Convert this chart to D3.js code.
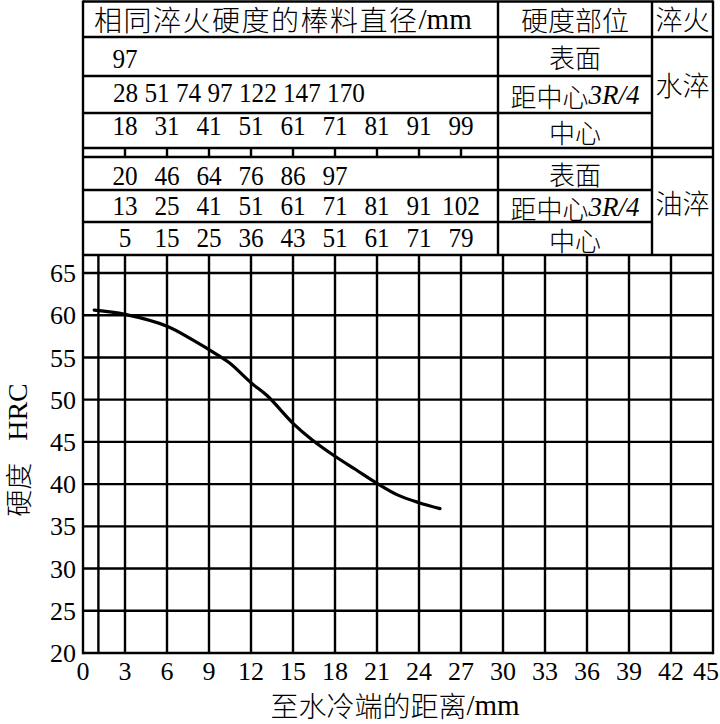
<!DOCTYPE html>
<html><head><meta charset="utf-8">
<script src="https://cdn.jsdelivr.net/npm/d3@7"></script>
<style>body{margin:0;background:#fff} svg{display:block}</style>
</head><body><svg id="c" width="720" height="724"></svg>
<script>
// ---- data ----
const distance = [0.8, 3, 6, 7.8, 9.6, 10.5, 12, 13.2, 15, 16.4, 18, 19.5, 21, 22.5, 24, 25.5];
const hardness = [60.6, 60.1, 58.7, 57.1, 55.3, 54.3, 52.0, 50.4, 47.2, 45.2, 43.3, 41.7, 40.1, 38.7, 37.8, 37.1];
const xTicks = [0, 3, 6, 9, 12, 15, 18, 21, 24, 27, 30, 33, 36, 39, 42, 45];
const yTicks = [20, 25, 30, 35, 40, 45, 50, 55, 60, 65];
const xGrid = [1.1, 3, 6, 9, 12, 15, 18, 21, 24, 27, 30, 33, 36, 39, 42];
const tableDistances = [3, 6, 9, 12, 15, 18, 21, 24, 27];
const waterSurface = [97];
const waterMid = [28, 51, 74, 97, 122, 147, 170];
const waterCenter = [18, 31, 41, 51, 61, 71, 81, 91, 99];
const oilSurface = [20, 46, 64, 76, 86, 97];
const oilMid = [13, 25, 41, 51, 61, 71, 81, 91, 102];
const oilCenter = [5, 15, 25, 36, 43, 51, 61, 71, 79];
const positionLabels = ["表面", "距中心", "中心"];
const quenchLabels = ["水淬", "油淬"];
const headerDiam = "相同淬火硬度的棒料直径";
const headerPos = "硬度部位";
const headerQuench = "淬火";
const xTitle = "至水冷端的距离";
const yTitle = "硬度";

// ---- layout ----
const svg = d3.select("#c");
const L = 83, R = 713, B = 653, T0 = 1.5;
const colPos = 498, colQ = 652;
const rows = [1.5, 37, 76, 113, 148, 157, 190, 222, 255];
const plotTop = 255;
const x = d3.scaleLinear().domain([0, 45]).range([L, R]);
const y = d3.scaleLinear().domain([20, 65]).range([B, 273]);
const CJK = "'Noto Sans CJK SC', sans-serif";
const SERIF = "'Liberation Serif', 'Times New Roman', serif";
const CW = 300;
const lw = 2.4;

const g = svg.append("g").attr("stroke", "#000").attr("stroke-width", lw).attr("fill", "none");
function hl(y0, x0, x1) { g.append("line").attr("x1", x0).attr("x2", x1).attr("y1", y0).attr("y2", y0); }
function vl(x0, y0, y1) { g.append("line").attr("x1", x0).attr("x2", x0).attr("y1", y0).attr("y2", y1); }

// grid
yTicks.forEach(v => hl(y(v), L, R));
xGrid.forEach(v => vl(x(v), plotTop, B));
// table lines
[rows[0], rows[1], rows[4], rows[5], rows[8]].forEach(r => hl(r, L, R));
[rows[2], rows[3], rows[6], rows[7]].forEach(r => hl(r, L, colQ));
vl(L, T0 - 1, B + 1.2); vl(R, T0 - 1, B + 1.2);
vl(colPos, T0, plotTop); vl(colQ, T0, plotTop);
tableDistances.forEach(d => vl(x(d), rows[4], rows[5]));

// curve
svg.append("path")
  .datum(distance.map((d, i) => [d, hardness[i]]))
  .attr("fill", "none").attr("stroke", "#000").attr("stroke-width", 3.2)
  .attr("stroke-linecap", "round")
  .attr("d", d3.line().x(d => x(d[0])).y(d => y(d[1])).curve(d3.curveCatmullRom.alpha(0.5)));

// axis labels
svg.append("g").selectAll("text").data(yTicks).join("text")
  .attr("x", 76).attr("y", d => y(d)).attr("dy", "0.35em")
  .attr("text-anchor", "end").attr("font-family", SERIF).attr("font-size", 26)
  .text(d => d);
svg.append("g").selectAll("text").data(xTicks).join("text")
  .attr("x", (d, i) => i === xTicks.length - 1 ? 719 : x(d)).attr("y", 680)
  .attr("text-anchor", (d, i) => i === xTicks.length - 1 ? "end" : "middle")
  .attr("font-family", SERIF).attr("font-size", 26)
  .text(d => d);

// x title
const xt = svg.append("text").attr("x", 395).attr("y", 705).attr("dominant-baseline", "central")
  .attr("text-anchor", "middle").attr("font-family", CJK).attr("font-weight", CW).attr("font-size", 28);
xt.append("tspan").text(xTitle);
xt.append("tspan").attr("font-family", SERIF).attr("font-size", 29).attr("font-weight", "normal").text("/mm");
// y title
const yt = svg.append("text").attr("transform", "translate(17,450) rotate(-90)")
  .attr("dominant-baseline", "central").attr("text-anchor", "middle")
  .attr("font-family", CJK).attr("font-weight", CW).attr("font-size", 27);
yt.append("tspan").text(yTitle);
yt.append("tspan").attr("font-family", SERIF).attr("font-weight", "normal").attr("font-size", 28).attr("dx", 22).text("HRC");

// header
const h1 = svg.append("text").attr("x", 94).attr("y", 19).attr("dominant-baseline", "central")
  .attr("font-family", CJK).attr("font-weight", CW).attr("font-size", 28).attr("letter-spacing", 1.5);
h1.append("tspan").text(headerDiam);
h1.append("tspan").attr("font-family", SERIF).attr("font-weight", "normal").attr("font-size", 29).attr("letter-spacing", 0).text("/mm");
svg.append("text").attr("x", (colPos + colQ) / 2).attr("y", 19).attr("dominant-baseline", "central")
  .attr("text-anchor", "middle").attr("font-family", CJK).attr("font-weight", CW).attr("font-size", 27).text(headerPos);
svg.append("text").attr("x", (colQ + R) / 2).attr("y", 18).attr("dominant-baseline", "central")
  .attr("text-anchor", "middle").attr("font-family", CJK).attr("font-weight", CW).attr("font-size", 27).text(headerQuench);

// position labels
function posLabel(i, cy) {
  const t = svg.append("text").attr("x", (colPos + colQ) / 2).attr("y", cy).attr("dominant-baseline", "central")
    .attr("text-anchor", "middle").attr("font-family", CJK).attr("font-weight", CW).attr("font-size", 26);
  t.append("tspan").text(positionLabels[i]);
  if (i === 1) {
    t.append("tspan").attr("font-family", SERIF).attr("font-weight", "normal").attr("font-size", 27)
      .attr("font-style", "italic").text("3R/4");
  }
}
posLabel(0, 56); posLabel(1, 95); posLabel(2, 131);
posLabel(0, 173); posLabel(1, 207); posLabel(2, 239);
svg.append("text").attr("x", (colQ + R) / 2).attr("y", 84).attr("dominant-baseline", "central")
  .attr("text-anchor", "middle").attr("font-family", CJK).attr("font-weight", CW).attr("font-size", 27).text(quenchLabels[0]);
svg.append("text").attr("x", (colQ + R) / 2).attr("y", 202).attr("dominant-baseline", "central")
  .attr("text-anchor", "middle").attr("font-family", CJK).attr("font-weight", CW).attr("font-size", 27).text(quenchLabels[1]);

// number rows
function numRow(vals, base) {
  svg.append("g").selectAll("text").data(vals).join("text")
    .attr("transform", (d, i) => `translate(${x(tableDistances[i])},${base}) scale(0.9,1)`)
    .attr("text-anchor", "middle").attr("font-family", SERIF).attr("font-size", 28)
    .text(d => d);
}
numRow(waterSurface, 68);
svg.append("text").attr("transform", `translate(${x(tableDistances[0]) - 12},102) scale(0.9,1)`)
  .attr("font-family", SERIF).attr("font-size", 28).text(waterMid.join(" "));
numRow(waterCenter, 135);
numRow(oilSurface, 185);
numRow(oilMid, 215);
numRow(oilCenter, 247);
</script></body></html>
